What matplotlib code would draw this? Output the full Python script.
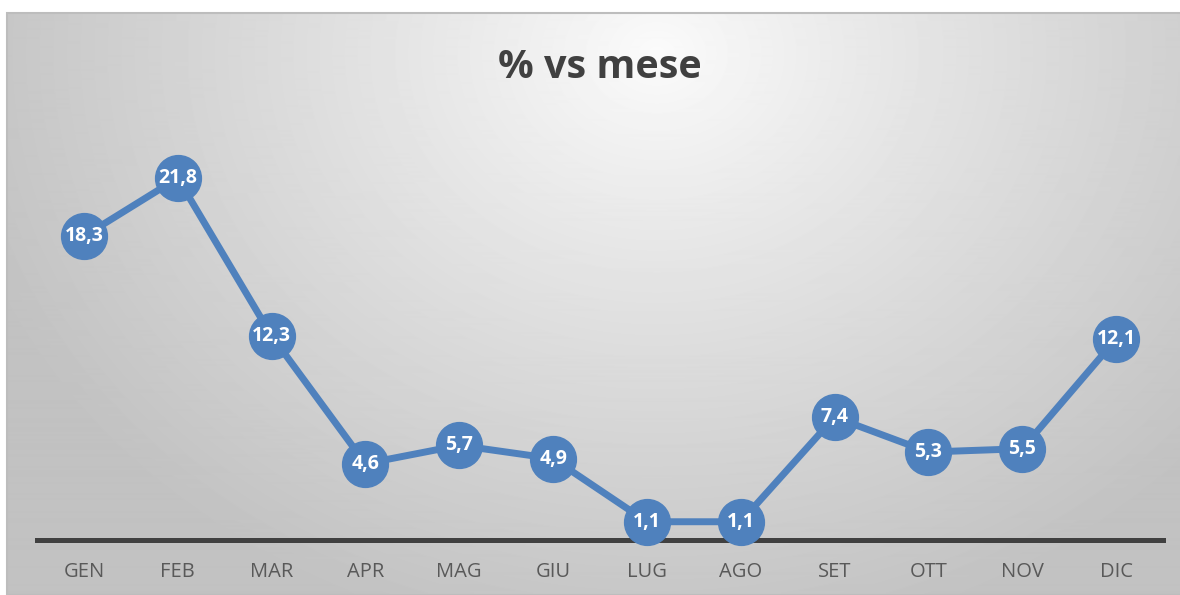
import numpy as np
import matplotlib.pyplot as plt
from matplotlib.patches import Rectangle

# data
mesi = ['GEN', 'FEB', 'MAR', 'APR', 'MAG', 'GIU', 'LUG', 'AGO', 'SET', 'OTT', 'NOV', 'DIC']
percentuali = [18.3, 21.8, 12.3, 4.6, 5.7, 4.9, 1.1, 1.1, 7.4, 5.3, 5.5, 12.1]

W, H = 1180, 595
fig = plt.figure(figsize=(W / 100, H / 100), dpi=100)
fig.patch.set_facecolor('white')

# radial grey gradient behind the chart
bg = fig.add_axes([7 / W, 1 / H, 1 - 7 / W, 1 - 14 / H])
bg.set_axis_off()
yy, xx = np.mgrid[0:580, 0:1173]
d = np.sqrt(((xx - 650) / 720.0) ** 2 + ((yy - 40) / 600.0) ** 2)
d = np.clip(d, 0, 1)
grey = 0.985 - (0.985 - 0.76) * d ** 0.9
bg.imshow(grey, cmap='gray', vmin=0, vmax=1, aspect='auto', interpolation='bilinear')
fig.add_artist(Rectangle((7 / W, 0), 1, 1 - 13 / H, transform=fig.transFigure,
                         fill=False, edgecolor='#bdbdbd', linewidth=1.5))

ax = fig.add_axes([37 / W, 1 - 540 / H, (1163 - 37) / W, (540 - 125) / H])
ax.patch.set_alpha(0)
x = np.arange(len(mesi))
ax.plot(x, percentuali, color='#4f81bd', linewidth=5, marker='o', markersize=33,
        markerfacecolor='#4f81bd', markeredgecolor='#4f81bd', zorder=3, clip_on=False)
for xi, v in zip(x, percentuali):
    ax.text(xi, v, f'{v:.1f}'.replace('.', ','), ha='center', va='center', color='white',
            fontsize=14, fontweight='bold', family='Open Sans', zorder=4)

ax.set_xlim(-0.5, len(mesi) - 0.5)
ax.set_ylim(0, 25)
ax.set_yticks([])
for s in ['top', 'right', 'left']:
    ax.spines[s].set_visible(False)
ax.spines['bottom'].set_color('#404040')
ax.spines['bottom'].set_linewidth(3.6)
ax.set_xticks(x)
ax.set_xticklabels(mesi, fontsize=14.5, color='#595959', family='Open Sans')
ax.tick_params(axis='x', length=0, pad=16)

fig.text(600 / W, 1 - 68 / H, '% vs mese', ha='center', va='center', fontsize=28.5,
         fontweight='bold', color='#404040', family='Open Sans')

fig.savefig('out.png', dpi=100)
